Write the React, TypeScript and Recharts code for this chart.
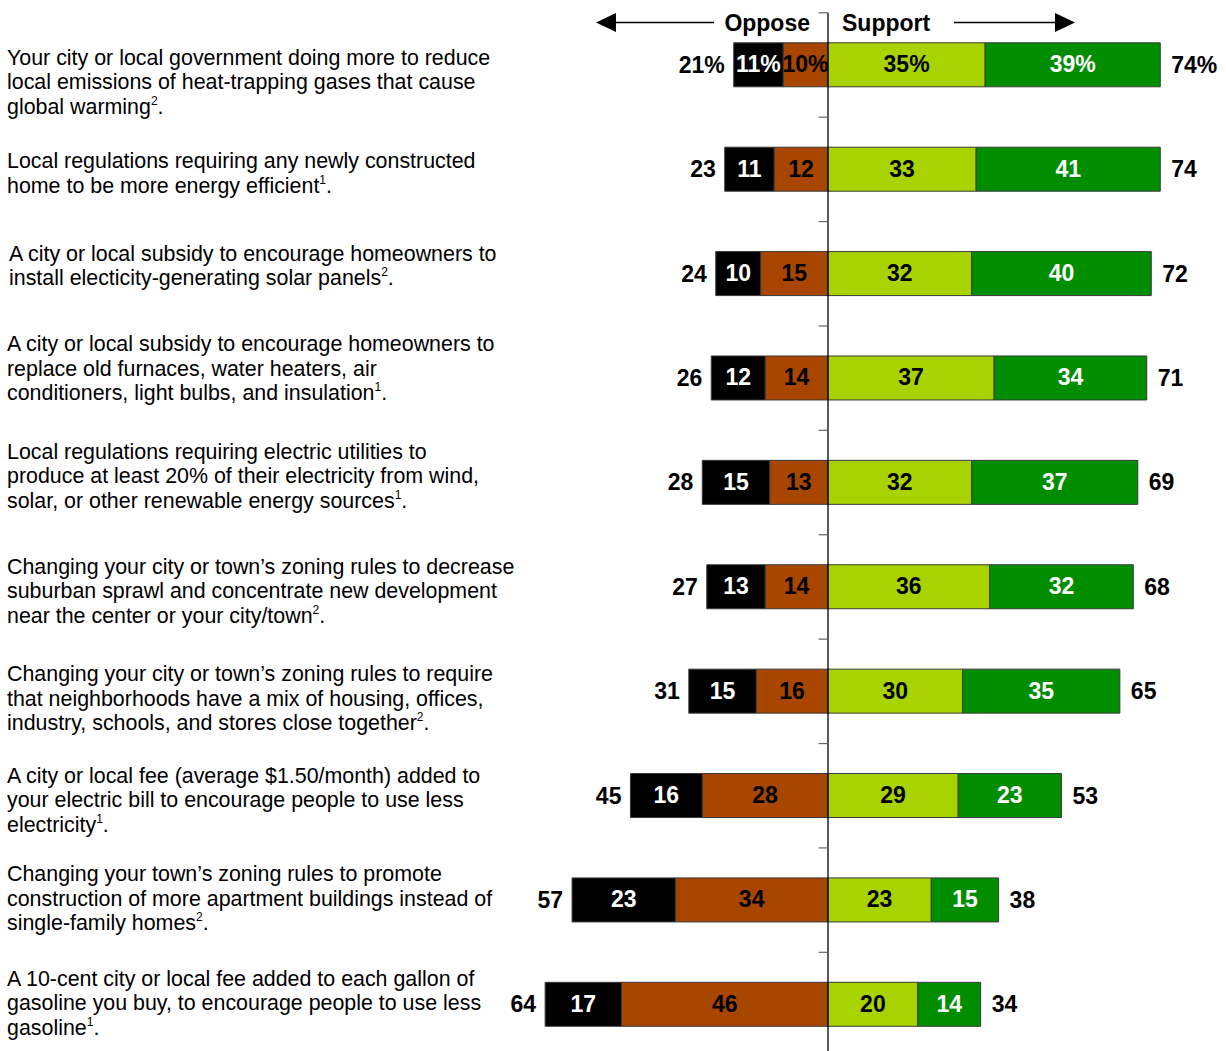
import React from "react";
import { Bar, BarChart, LabelList, ReferenceLine, XAxis, YAxis } from "recharts";

// Survey items, top to bottom. Each statement is pre-broken into lines;
// the footnote number is drawn as a superscript before the final period.
const CATEGORIES = ["q1", "q2", "q3", "q4", "q5", "q6", "q7", "q8", "q9", "q10"];

const STATEMENTS: string[][] = [
  [
    "Your city or local government doing more to reduce",
    "local emissions of heat-trapping gases that cause",
    "global warming",
  ],
  ["Local regulations requiring any newly constructed", "home to be more energy efficient"],
  ["A city or local subsidy to encourage homeowners to", "install electicity-generating solar panels"],
  [
    "A city or local subsidy to encourage homeowners to",
    "replace old furnaces, water heaters, air",
    "conditioners, light bulbs, and insulation",
  ],
  [
    "Local regulations requiring electric utilities to",
    "produce at least 20% of their electricity from wind,",
    "solar, or other renewable energy sources",
  ],
  [
    "Changing your city or town\u2019s zoning rules to decrease",
    "suburban sprawl and concentrate new development",
    "near the center or your city/town",
  ],
  [
    "Changing your city or town\u2019s zoning rules to require",
    "that neighborhoods have a mix of housing, offices,",
    "industry, schools, and stores close together",
  ],
  [
    "A city or local fee (average $1.50/month) added to",
    "your electric bill to encourage people to use less",
    "electricity",
  ],
  [
    "Changing your town\u2019s zoning rules to promote",
    "construction of more apartment buildings instead of",
    "single-family homes",
  ],
  [
    "A 10-cent city or local fee added to each gallon of",
    "gasoline you buy, to encourage people to use less",
    "gasoline",
  ],
];
const FOOTNOTES = [2, 1, 2, 1, 1, 2, 2, 1, 2, 1];

const STRONG_OPPOSE = [11, 11, 10, 12, 15, 13, 15, 16, 23, 17];
const SOME_OPPOSE = [10, 12, 15, 14, 13, 14, 16, 28, 34, 46];
const SOME_SUPPORT = [35, 33, 32, 37, 32, 36, 30, 29, 23, 20];
const STRONG_SUPPORT = [39, 41, 40, 34, 37, 32, 35, 23, 15, 14];
const OPPOSE_TOTAL = [21, 23, 24, 26, 28, 27, 31, 45, 57, 64];
const SUPPORT_TOTAL = [74, 74, 72, 71, 69, 68, 65, 53, 38, 34];

// baseline of the first text line relative to the bar centre (hand placed in the original)
const LABEL_NUDGE = [0, -1, -13, -27, -24, -13, -10, -13, -19, -19];
const LABEL_X = [7, 7, 9, 7, 7, 7, 7, 7, 7, 7];

const BLACK = "#000000";
const BROWN = "#A84600";
const LIME = "#A9D300";
const GREEN = "#008E00";
const FONT = '"Liberation Sans", Arial, sans-serif';

// only the first row carries the percent sign
const fmt = (v: number, i: number) => (i === 0 ? `${v}%` : `${v}`);

const rows = CATEGORIES.map((key, i) => ({
  key,
  someOppose: -SOME_OPPOSE[i],
  strongOppose: -STRONG_OPPOSE[i],
  someSupport: SOME_SUPPORT[i],
  strongSupport: STRONG_SUPPORT[i],
  soText: fmt(SOME_OPPOSE[i], i),
  stoText: fmt(STRONG_OPPOSE[i], i),
  ssText: fmt(SOME_SUPPORT[i], i),
  stsText: fmt(STRONG_SUPPORT[i], i),
  oppText: fmt(OPPOSE_TOTAL[i], i),
  supText: fmt(SUPPORT_TOTAL[i], i),
}));

function box(p: any) {
  const vb = p.viewBox ?? p;
  const x = Number(vb.x ?? p.x);
  const y = Number(vb.y ?? p.y);
  const w = Number(vb.width ?? p.width);
  const h = Number(vb.height ?? p.height);
  return { left: Math.min(x, x + w), right: Math.max(x, x + w), cy: y + h / 2 };
}

const inner = (color: string) => (p: any) => {
  const b = box(p);
  return (
    <text
      x={(b.left + b.right) / 2}
      y={b.cy + 7.5}
      textAnchor="middle"
      fill={color}
      fontFamily={FONT}
      fontWeight="bold"
      fontSize={23}
    >
      {p.value}
    </text>
  );
};

const outer = (side: "left" | "right") => (p: any) => {
  const b = box(p);
  return (
    <text
      x={side === "left" ? b.left - 9 : b.right + 11}
      y={b.cy + 8}
      textAnchor={side === "left" ? "end" : "start"}
      fill="#000"
      fontFamily={FONT}
      fontWeight="bold"
      fontSize={23}
    >
      {p.value}
    </text>
  );
};

function StatementTick(props: any) {
  const i = CATEGORIES.indexOf(props.payload.value);
  if (i < 0) return null;
  const lines = STATEMENTS[i];
  const y0 = props.y + LABEL_NUDGE[i];
  const x0 = LABEL_X[i];
  return (
    <text x={x0} y={y0} fontFamily={FONT} fontSize={21.4} fill="#000">
      {lines.map((line, k) => (
        <tspan key={k} x={x0} y={y0 + k * 24.5}>
          {line}
          {k === lines.length - 1 ? (
            <>
              <tspan fontSize={12} dy={-9}>
                {FOOTNOTES[i]}
              </tspan>
              <tspan dy={9}>.</tspan>
            </>
          ) : null}
        </tspan>
      ))}
    </text>
  );
}

function Header() {
  return (
    <svg
      width={1226}
      height={50}
      style={{ position: "absolute", left: 0, top: 0, pointerEvents: "none" }}
    >
      <line x1={612} x2={714} y1={22.5} y2={22.5} stroke="#000" strokeWidth={1.6} />
      <polygon points="596,22.5 616,13 616,32" fill="#000" />
      <text x={810} y={30.5} textAnchor="end" fontFamily={FONT} fontWeight="bold" fontSize={23}>
        Oppose
      </text>
      <text x={842} y={30.5} fontFamily={FONT} fontWeight="bold" fontSize={23}>
        Support
      </text>
      <line x1={954} x2={1058} y1={22.5} y2={22.5} stroke="#000" strokeWidth={1.6} />
      <polygon points="1075,22.5 1055,13 1055,32" fill="#000" />
    </svg>
  );
}

export default function App() {
  return (
    <div
      style={{
        position: "absolute",
        left: 0,
        top: 0,
        width: 1226,
        height: 1051,
        overflow: "hidden",
        background: "#fff",
      }}
    >
      <BarChart
        width={1226}
        height={1060}
        data={rows}
        layout="vertical"
        stackOffset="sign"
        margin={{ top: 12.8, right: 16.35, bottom: 3.3, left: 0 }}
      >
        <XAxis type="number" hide domain={[-120, 85]} allowDataOverflow />
        <YAxis
          yAxisId="cat"
          type="category"
          dataKey="key"
          width={289.2}
          axisLine={false}
          tickLine={false}
          interval={0}
          tick={(p: any) => <StatementTick {...p} />}
        />
        <Bar yAxisId="cat" dataKey="someOppose" stackId="s" barSize={44} fill={BROWN} stroke="#3a3a3a" strokeWidth={1} isAnimationActive={false}>
          <LabelList dataKey="soText" content={inner("#000")} />
        </Bar>
        <Bar yAxisId="cat" dataKey="strongOppose" stackId="s" barSize={44} fill={BLACK} stroke="#3a3a3a" strokeWidth={1} isAnimationActive={false}>
          <LabelList dataKey="stoText" content={inner("#fff")} />
          <LabelList dataKey="oppText" content={outer("left")} />
        </Bar>
        <Bar yAxisId="cat" dataKey="someSupport" stackId="s" barSize={44} fill={LIME} stroke="#3a3a3a" strokeWidth={1} isAnimationActive={false}>
          <LabelList dataKey="ssText" content={inner("#000")} />
        </Bar>
        <Bar yAxisId="cat" dataKey="strongSupport" stackId="s" barSize={44} fill={GREEN} stroke="#3a3a3a" strokeWidth={1} isAnimationActive={false}>
          <LabelList dataKey="stsText" content={inner("#fff")} />
          <LabelList dataKey="supText" content={outer("right")} />
        </Bar>
        <ReferenceLine yAxisId="cat" x={0} stroke="#000" strokeWidth={1.3} />
        {CATEGORIES.map((c) => (
          <ReferenceLine
            key={c}
            yAxisId="cat"
            position="start"
            segment={[
              { x: -2.1, y: c },
              { x: 0, y: c },
            ]}
            stroke="#666"
            strokeWidth={1.2}
          />
        ))}
      </BarChart>
      <Header />
    </div>
  );
}
